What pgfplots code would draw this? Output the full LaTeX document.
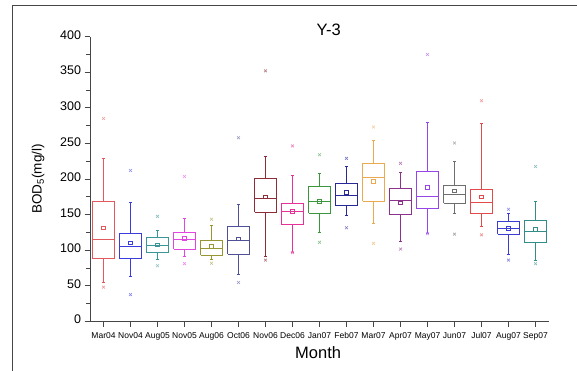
\documentclass[border=0pt]{standalone}
\usepackage{fontspec}
\setmainfont{Liberation Sans}
\usepackage{pgfplots}
\pgfplotsset{compat=1.18}
\definecolor{c0}{RGB}{226,88,92}
\definecolor{c1}{RGB}{60,60,220}
\definecolor{c2}{RGB}{60,150,150}
\definecolor{c3}{RGB}{225,70,225}
\definecolor{c4}{RGB}{150,150,50}
\definecolor{c5}{RGB}{80,80,150}
\definecolor{c6}{RGB}{140,45,55}
\definecolor{c7}{RGB}{230,50,150}
\definecolor{c8}{RGB}{60,150,60}
\definecolor{c9}{RGB}{40,40,150}
\definecolor{c10}{RGB}{235,170,80}
\definecolor{c11}{RGB}{140,50,140}
\definecolor{c12}{RGB}{150,70,230}
\definecolor{c13}{RGB}{110,110,110}
\definecolor{c14}{RGB}{225,75,75}
\definecolor{c15}{RGB}{60,60,210}
\definecolor{c16}{RGB}{50,140,135}
\definecolor{axgray}{RGB}{70,70,70}
% #1 index, #2 lower whisker, #3 Q1, #4 median, #5 Q3, #6 upper whisker, #7 mean, #8 min, #9 max
\newcommand\bx[9]{%
 \pgfmathsetmacro\xa{#1-0.4}%
 \pgfmathsetmacro\xb{#1+0.4}%
 \pgfmathsetmacro\ca{#1-0.06}%
 \pgfmathsetmacro\cb{#1+0.06}%
 \edef\tmp{%
  \noexpand\addplot[c#1, line width=0.9pt, line join=miter] coordinates {(\xa,#3) (\xb,#3) (\xb,#5) (\xa,#5) (\xa,#3)};
  \noexpand\addplot[c#1, line width=0.9pt] coordinates {(\xa,#4) (\xb,#4)};
  \noexpand\addplot[c#1, line width=0.9pt] coordinates {(#1,#5) (#1,#6)};
  \noexpand\addplot[c#1, line width=0.9pt] coordinates {(#1,#3) (#1,#2)};
  \noexpand\addplot[c#1, line width=0.9pt] coordinates {(\ca,#6) (\cb,#6)};
  \noexpand\addplot[c#1, line width=0.9pt] coordinates {(\ca,#2) (\cb,#2)};
  \noexpand\addplot[c#1, only marks, mark=square, mark size=1.8pt, mark options={line width=0.6pt}] coordinates {(#1,#7)};
  \noexpand\addplot[c#1!60, only marks, mark=x, mark size=2pt, mark options={line width=0.6pt}] coordinates {(#1,#8) (#1,#9)};
 }\tmp
}
\begin{document}
\begin{tikzpicture}
\useasboundingbox (0,0) rectangle (577pt,371pt);
\draw[axgray, line width=0.8pt] (12pt,0pt) -- (12pt,366pt) -- (577pt,366pt);
\begin{axis}[
  at={(90pt,49.7pt)}, anchor=south west,
  scale only axis, width=459pt, height=284.6pt,
  clip=false,
  axis lines=left, axis line style={-, axgray, line width=1pt},
  xmin=-0.5, xmax=16.5, ymin=0, ymax=400,
  xtick={0,...,16},
  xticklabels={Mar04,Nov04,Aug05,Nov05,Aug06,Oct06,Nov06,Dec06,Jan07,Feb07,Mar07,Apr07,May07,Jun07,Jul07,Aug07,Sep07},
  ytick={0,50,...,400}, minor y tick num=1,
  tick align=outside, major tick length=5.5pt, minor tick length=4pt,
  x tick style={axgray, line width=0.8pt},
  y tick style={axgray, line width=0.8pt},
  typeset ticklabels with strut,
  /pgf/number format/assume math mode=true,
  xticklabel style={font=\fontsize{8.5}{9}\selectfont, inner sep=1pt, yshift=-4pt},
  yticklabel style={font=\fontsize{12.5}{13}\selectfont},
  xlabel={Month}, xlabel style={font=\fontsize{16.5}{17}\selectfont, at={(axis description cs:0.497,-0.111)}, anchor=center},
  ylabel={BOD\textsubscript{5}(mg/l)}, ylabel style={font=\fontsize{13.5}{14}\selectfont, at={(axis description cs:-0.113,0.5)}, anchor=center},
]
\bx{0}{54}{88}{115}{168.5}{229}{131.5}{48}{285}
\bx{1}{63.5}{88}{105}{123}{167}{110.5}{37.5}{212}
\bx{2}{87}{96.5}{107}{118}{127.5}{107.5}{78}{147.5}
\bx{3}{91}{101}{114.5}{125}{145}{116.5}{81}{203.5}
\bx{4}{87.5}{93}{102.5}{113.5}{134.5}{105}{81.5}{143.5}
\bx{5}{66.5}{94.5}{113.5}{133}{164}{116}{54.5}{258}
\bx{6}{91}{153}{173}{201}{231}{175}{86}{352}
\bx{7}{97}{136}{155}{165.5}{204.5}{155}{96.5}{246.5}
\bx{8}{125.5}{152}{168}{189}{208}{169}{111}{234}
\bx{9}{149}{162.5}{177.5}{194}{217}{181}{131.5}{229}
\bx{10}{137}{168.5}{201.5}{221.5}{254.5}{197}{109.5}{273}
\bx{11}{112.5}{149.5}{169.5}{187}{209.5}{166.5}{101.5}{222}
\bx{12}{124}{158}{175}{211}{280}{188.5}{123}{375}
\bx{13}{151}{166}{178.5}{190.5}{224.5}{183.5}{122.5}{250.5}
\bx{14}{133.5}{151}{166.5}{185.5}{278.5}{175}{121.5}{310}
\bx{15}{94.5}{122.5}{130}{140}{152}{130.5}{86}{157.5}
\bx{16}{85}{110.5}{126.5}{141.5}{169}{129.5}{81}{217.5}
\node[font=\fontsize{16.5}{17}\selectfont] at (rel axis cs:0.52,1.0235) {Y-3};
\end{axis}
\end{tikzpicture}
\end{document}
